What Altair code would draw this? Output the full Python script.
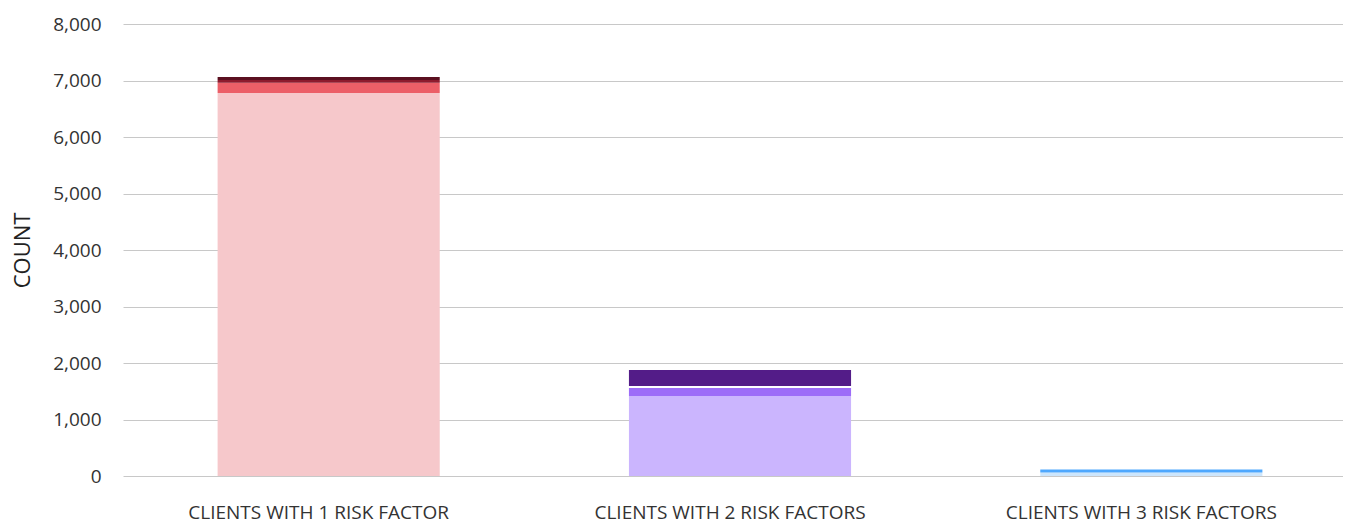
import altair as alt
import pandas as pd

categories = ["CLIENTS WITH 1 RISK FACTOR"] * 4 + ["CLIENTS WITH 2 RISK FACTORS"] * 4 + ["CLIENTS WITH 3 RISK FACTORS"] * 2
segments = ["r1", "r2", "r3", "r4", "p1", "p2", "p3", "p4", "b1", "b2"]
values = [6780, 182, 47, 53, 1416, 142, 35, 283, 60, 53]
order = [0, 1, 2, 3, 0, 1, 2, 3, 0, 1]
colors = ["#f6c8cb", "#ec5f68", "#8e1b2e", "#5b1020",
          "#cbb5fe", "#9d6cf8", "#ffffff", "#531c88",
          "#cde6fc", "#4ea8fe"]
cat_order = ["CLIENTS WITH 1 RISK FACTOR", "CLIENTS WITH 2 RISK FACTORS", "CLIENTS WITH 3 RISK FACTORS"]

df = pd.DataFrame({"category": categories, "segment": segments, "value": values, "ord": order})

FONT = "Open Sans"

chart = alt.Chart(df).mark_bar().encode(
    x=alt.X("category:N", sort=cat_order,
            scale=alt.Scale(paddingInner=0.46, paddingOuter=0.23),
            axis=alt.Axis(title=None, labelAngle=0, domain=False, ticks=False,
                          labelPadding=27, labelFontSize=19, labelColor="#333333",
                          labelFont=FONT, labelLimit=0, labelOffset=-10)),
    y=alt.Y("value:Q", stack="zero",
            scale=alt.Scale(domain=[0, 8000], nice=False),
            axis=alt.Axis(title="COUNT", values=list(range(0, 8001, 1000)), format=",d",
                          domain=False, ticks=False, labelPadding=22,
                          labelFontSize=19, labelColor="#333333", labelFont=FONT,
                          titleFont=FONT, titleFontSize=22, titleFontWeight="normal",
                          titleColor="#222222", titlePadding=18,
                          gridColor="#c8c8c8", gridWidth=1)),
    color=alt.Color("segment:N", scale=alt.Scale(domain=segments, range=colors), legend=None),
    order=alt.Order("ord:Q", sort="ascending"),
).properties(
    width=1234, height=452,
    padding={"top": 7, "left": 3, "right": -14, "bottom": 0},
).configure_view(stroke=None).configure_axis(zindex=0)

chart.save("out.html", embed_options={"renderer": "svg", "actions": False})
